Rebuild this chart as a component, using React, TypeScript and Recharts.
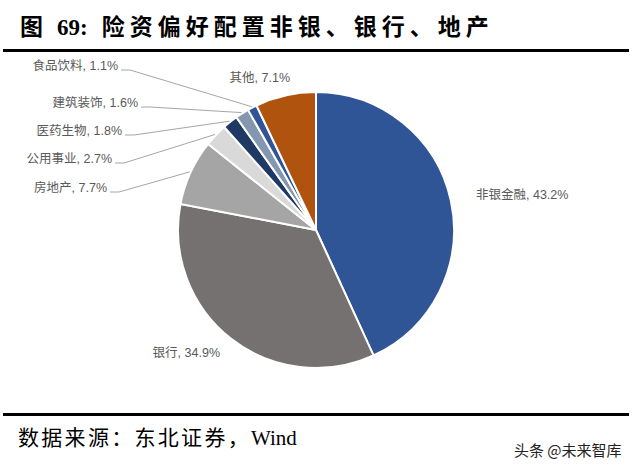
import React from 'react';
import { PieChart, Pie, Cell } from 'recharts';

const sectors = ['非银金融', '银行', '房地产', '公用事业', '医药生物', '建筑装饰', '食品饮料', '其他'];
const shares = [43.2, 34.9, 7.7, 2.7, 1.8, 1.6, 1.1, 7.1];
const colors = ['#2F5597', '#767171', '#A5A5A5', '#D9D9D9', '#203864', '#8497B0', '#2F5597', '#B0530F'];

const data = sectors.map((name, i) => ({ name, value: shares[i] }));

// where each label sits (text end/start) and whether it gets a leader line
const labelSpots = [
    { x: 476, y: 195, anchor: 'start', line: false },
    { x: 220, y: 353, anchor: 'end', line: false },
    { x: 107, y: 188, anchor: 'end', line: true },
    { x: 112, y: 159, anchor: 'end', line: true },
    { x: 122, y: 131, anchor: 'end', line: true },
    { x: 138, y: 103, anchor: 'end', line: true },
    { x: 118, y: 66, anchor: 'end', line: true },
    { x: 290, y: 78, anchor: 'end', line: false },
];

const RAD = Math.PI / 180;

const renderLabel = (props: any) => {
    const { cx, cy, midAngle, outerRadius, index } = props;
    const spot = labelSpots[index];
    const ex = cx + (outerRadius + 1) * Math.cos(-midAngle * RAD);
    const ey = cy + (outerRadius + 1) * Math.sin(-midAngle * RAD);
    const sy = spot.y + 4;
    return (
        <g>
            {spot.line && (
                <polyline
                    points={`${spot.x + 3},${sy} ${spot.x + 12},${sy} ${ex},${ey}`}
                    fill="none"
                    stroke="#A6A6A6"
                    strokeWidth={1}
                />
            )}
            <text
                x={spot.x}
                y={spot.y}
                textAnchor={spot.anchor}
                dominantBaseline="central"
                fill="#595959"
                fontSize={12.5}
                fontFamily='"Liberation Sans", "Noto Sans CJK SC", sans-serif'
            >
                {`${sectors[index]}, ${shares[index].toFixed(1)}%`}
            </text>
        </g>
    );
};

const App: React.FC = () => {
    return (
        <div style={{ position: 'absolute', left: 0, top: 0, width: 640, height: 468, background: '#fff', overflow: 'hidden' }}>
            <div
                style={{
                    position: 'absolute', left: 20, top: 11, fontSize: 23, fontWeight: 'bold', letterSpacing: 5,
                    fontFamily: '"Liberation Serif", "Noto Sans CJK SC", serif', color: '#000', whiteSpace: 'nowrap', lineHeight: '34px',
                }}
            >
                图
                <span style={{ letterSpacing: 0, margin: '0 14px 0 9px' }}>69:</span>
                险资偏好配置非银、银行、地产
            </div>
            <div style={{ position: 'absolute', left: 3, top: 49, width: 626, height: 3, background: '#000' }} />
            <div style={{ position: 'absolute', left: 0, top: 0 }}>
                <PieChart width={640} height={468} margin={{ top: 0, right: 0, bottom: 0, left: 0 }}>
                    <Pie
                        data={data}
                        dataKey="value"
                        nameKey="name"
                        cx={316}
                        cy={230}
                        outerRadius={138}
                        startAngle={90}
                        endAngle={-270}
                        stroke="#fff"
                        strokeWidth={2}
                        label={renderLabel}
                        labelLine={false}
                        isAnimationActive={false}
                    >
                        {data.map((d, i) => (
                            <Cell key={d.name} fill={colors[i]} />
                        ))}
                    </Pie>
                </PieChart>
            </div>
            <div style={{ position: 'absolute', left: 3, top: 413, width: 626, height: 3, background: '#000' }} />
            <div
                style={{
                    position: 'absolute', left: 18, top: 424, fontSize: 21, letterSpacing: 2.3,
                    fontFamily: '"Liberation Serif", "Noto Sans CJK SC", serif', color: '#000', whiteSpace: 'nowrap', lineHeight: '28px',
                }}
            >
                数据来源：东北证券，<span style={{ letterSpacing: 0 }}>Wind</span>
            </div>
            <div
                style={{
                    position: 'absolute', left: 514, top: 440, fontSize: 15,
                    fontFamily: '"Noto Sans CJK SC", sans-serif', color: '#222', whiteSpace: 'nowrap', lineHeight: '20px',
                }}
            >
                头条 @未来智库
            </div>
        </div>
    );
};

export default App;
